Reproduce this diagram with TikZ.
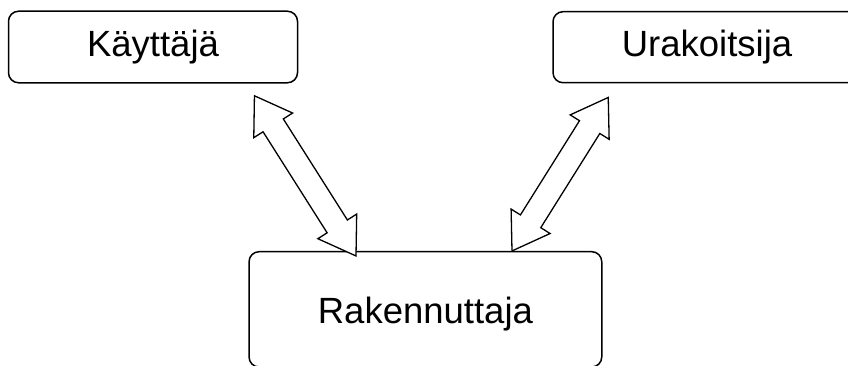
\documentclass[tikz,border=0pt]{standalone}
\usepackage{fontspec}
\setmainfont{Liberation Sans}
\usetikzlibrary{calc}

\tikzset{
  party/.style={draw=black, line width=1.5pt, rounded corners=10pt,
    inner sep=0pt, font=\fontsize{36.5}{40}\selectfont,
    text height=26pt, text depth=7.7pt},
  flow/.style={draw=black, line width=1.3pt, fill=white, line join=miter}
}

% Two-headed block arrow between the named coordinates #1 and #2
\newcommand{\twowayarrow}[2]{%
  \path ($(#1)!35pt!(#2)$) coordinate (#1h) ($(#2)!35pt!(#1)$) coordinate (#2h);
  \draw[flow] (#1)
    -- ($(#1h)!23pt!90:(#1)$) -- ($(#1h)!12pt!90:(#1)$)
    -- ($(#2h)!12pt!-90:(#2)$) -- ($(#2h)!23pt!-90:(#2)$)
    -- (#2)
    -- ($(#2h)!23pt!90:(#2)$) -- ($(#2h)!12pt!90:(#2)$)
    -- ($(#1h)!12pt!-90:(#1)$) -- ($(#1h)!23pt!-90:(#1)$)
    -- cycle;}

\begin{document}
\begin{tikzpicture}[x=1pt,y=1pt]
  \useasboundingbox (0,0) rectangle (848,365);
  \clip (0,0) rectangle (848,365);

  \node[party, minimum width=289pt, minimum height=71.5pt] (kayttaja) at (153,318) {Käyttäjä};
  \node[party, minimum width=308pt, minimum height=71pt] (urakoitsija) at (707,317.8) {Urakoitsija};
  \node[party, minimum width=352.7pt, minimum height=115.3pt,
        text height=27.9pt, text depth=0pt] (rakennuttaja) at (425.4,55.65) {Rakennuttaja};

  % arrow tips below the upper boxes and on top of the lower box
  \coordinate (k1) at ($(kayttaja.south west)+(246.7,-12.3)$);
  \coordinate (r1) at ($(rakennuttaja.north west)+(107.7,-5)$);
  \coordinate (u1) at ($(urakoitsija.south west)+(56,-14)$);
  \coordinate (r2) at ($(rakennuttaja.north west)+(263.7,0)$);

  \twowayarrow{k1}{r1}
  \twowayarrow{u1}{r2}
\end{tikzpicture}
\end{document}
